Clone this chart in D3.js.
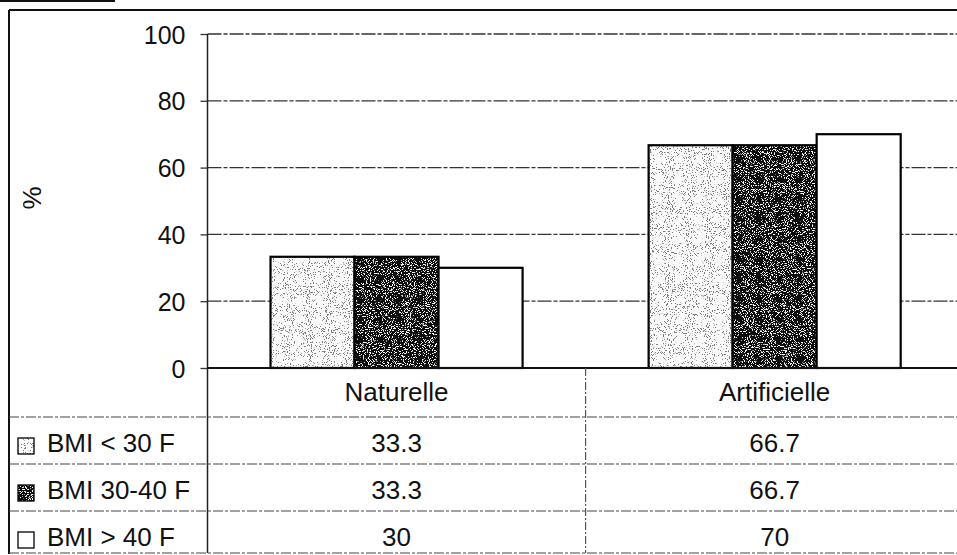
<!DOCTYPE html>
<html>
<head>
<meta charset="utf-8">
<script src="https://cdn.jsdelivr.net/npm/d3@7"></script>
<style>
  html, body { margin: 0; padding: 0; background: #fff; }
  svg { display: block; }
  text { font-family: "Liberation Sans", Arial, sans-serif; fill: #111; }
</style>
</head>
<body>
<svg id="chart" width="957" height="555"></svg>
<script>
// ---- data ----
const categories = ["Naturelle", "Artificielle"];
const seriesNames = ["BMI < 30 F", "BMI 30-40 F", "BMI > 40 F"];
const seriesBMIlt30 = [33.3, 66.7];
const seriesBMI30to40 = [33.3, 66.7];
const seriesBMIgt40 = [30, 70];
const tableLabels = [["33.3", "66.7"], ["33.3", "66.7"], ["30", "70"]];
const yTicks = [0, 20, 40, 60, 80, 100];
const yAxisTitle = "%";

const seriesValues = [seriesBMIlt30, seriesBMI30to40, seriesBMIgt40];

// ---- layout ----
const svg = d3.select("#chart");
const W = 957, H = 555;
const plotLeft = 207.5, plotTop = 34, plotBottom = 368, plotRight = 963.7;
const frameLeft = 9, frameTop = 10;
const rowLines = [417, 464, 511, 553];

const defs = svg.append("defs");
// speckle filters
function speckle(id, dotColor, k, off, seed, freq) {
  const f = defs.append("filter").attr("id", id)
    .attr("x", 0).attr("y", 0).attr("width", 1).attr("height", 1)
    .attr("filterUnits", "objectBoundingBox");
  f.append("feTurbulence").attr("type", "fractalNoise").attr("baseFrequency", freq)
    .attr("numOctaves", 2).attr("seed", seed).attr("result", "noise");
  const c = dotColor;
  f.append("feColorMatrix").attr("in", "noise").attr("type", "matrix")
    .attr("values", `0 0 0 0 ${c} 0 0 0 0 ${c} 0 0 0 0 ${c} ${k} 0 0 0 ${off}`)
    .attr("result", "dots");
  const m = f.append("feMerge");
  m.append("feMergeNode").attr("in", "SourceGraphic");
  m.append("feMergeNode").attr("in", "dots");
}
speckle("spLight", 0.2, -16, 6.5, 4, 0.95);
speckle("spDark", 1, -16, 6.9, 7, 0.95);

const fills = [
  { fill: "#fafafa", filter: "url(#spLight)" },
  { fill: "#0d0d0d", filter: "url(#spDark)" },
  { fill: "#ffffff", filter: null }
];

// scales
const x = d3.scaleBand().domain(categories).range([plotLeft, plotRight]).paddingInner(0).paddingOuter(0);
const xInner = d3.scaleBand().domain(d3.range(seriesNames.length)).range([0, x.bandwidth()])
  .paddingInner(0).paddingOuter(0.75);
const y = d3.scaleLinear().domain([0, 100]).range([plotBottom, plotTop]);

// top-left scan artifact line
svg.append("line").attr("x1", 0).attr("x2", 115).attr("y1", 1).attr("y2", 1)
  .attr("stroke", "#111").attr("stroke-width", 2);

// outer frame
svg.append("line").attr("x1", frameLeft).attr("x2", W).attr("y1", frameTop).attr("y2", frameTop)
  .attr("stroke", "#111").attr("stroke-width", 2);
svg.append("line").attr("x1", frameLeft).attr("x2", frameLeft).attr("y1", frameTop).attr("y2", 554)
  .attr("stroke", "#111").attr("stroke-width", 2);

// gridlines
svg.append("g").selectAll("line").data(yTicks.filter(d => d > 0)).join("line")
  .attr("x1", plotLeft).attr("x2", W).attr("y1", d => y(d)).attr("y2", d => y(d))
  .attr("stroke", "#333").attr("stroke-width", 1.3).attr("stroke-dasharray", "14 2 4 2");

// bars
const gBars = svg.append("g");
categories.forEach((cat, ci) => {
  seriesValues.forEach((vals, si) => {
    const bx = x(cat) + xInner(si), bw = xInner.bandwidth();
    const by = y(vals[ci]), bh = y(0) - y(vals[ci]);
    const r = gBars.append("rect").attr("x", bx).attr("y", by).attr("width", bw).attr("height", bh)
      .attr("fill", fills[si].fill);
    if (fills[si].filter) r.attr("filter", fills[si].filter);
    gBars.append("rect").attr("x", bx).attr("y", by).attr("width", bw).attr("height", bh)
      .attr("fill", "none").attr("stroke", "#000").attr("stroke-width", 2.2);
  });
});

// y axis
const yAxis = d3.axisLeft(y).tickValues(yTicks).tickSize(7).tickPadding(15).tickFormat(d3.format("d"));
const gy = svg.append("g").attr("transform", `translate(${plotLeft},0)`).call(yAxis);
gy.select(".domain").remove();
gy.selectAll(".tick line").attr("stroke", "#333").attr("stroke-width", 1.3);
gy.selectAll(".tick text").attr("font-size", 25).attr("font-family", "Liberation Sans, Arial, sans-serif")
  .attr("fill", "#111").attr("dy", "0.36em");

// axis lines
svg.append("line").attr("x1", plotLeft).attr("x2", plotLeft).attr("y1", plotTop).attr("y2", 553)
  .attr("stroke", "#222").attr("stroke-width", 1.5);
svg.append("line").attr("x1", plotLeft).attr("x2", W).attr("y1", plotBottom).attr("y2", plotBottom)
  .attr("stroke", "#111").attr("stroke-width", 2);

// y title
svg.append("text").attr("transform", `translate(41,198) rotate(-90)`)
  .attr("text-anchor", "middle").attr("font-size", 26).text(yAxisTitle);

// data table lines
svg.append("g").selectAll("line").data(rowLines).join("line")
  .attr("x1", frameLeft).attr("x2", W).attr("y1", d => d).attr("y2", d => d)
  .attr("stroke", "#444").attr("stroke-width", 1.2).attr("stroke-dasharray", "10 2 3 2");
svg.append("g").selectAll("line").data(categories.slice(1)).join("line")
  .attr("x1", d => x(d)).attr("x2", d => x(d)).attr("y1", plotBottom).attr("y2", 553)
  .attr("stroke", "#555").attr("stroke-width", 1.2).attr("stroke-dasharray", "8 2 2 2");

// category labels
svg.append("g").selectAll("text").data(categories).join("text")
  .attr("x", d => x(d) + x.bandwidth() / 2).attr("y", 401)
  .attr("text-anchor", "middle").attr("font-size", 26).text(d => d);

// values
const rowTops = [417, 464, 511];
tableLabels.forEach((row, si) => {
  svg.append("g").selectAll("text").data(row).join("text")
    .attr("x", (d, ci) => x(categories[ci]) + x.bandwidth() / 2)
    .attr("y", rowTops[si] + 35)
    .attr("text-anchor", "middle").attr("font-size", 26).text(d => d);
});

// legend keys in table
seriesNames.forEach((name, si) => {
  const ky = rowTops[si] + 21;
  const kr = svg.append("rect").attr("x", 18).attr("y", ky).attr("width", 16).attr("height", 16)
    .attr("fill", fills[si].fill);
  if (fills[si].filter) kr.attr("filter", fills[si].filter);
  svg.append("rect").attr("x", 18).attr("y", ky).attr("width", 16).attr("height", 16)
    .attr("fill", "none").attr("stroke", "#000").attr("stroke-width", 1.3);
  svg.append("text").attr("x", 47).attr("y", rowTops[si] + 35).attr("font-size", 26).text(name);
});
</script>
</body>
</html>
